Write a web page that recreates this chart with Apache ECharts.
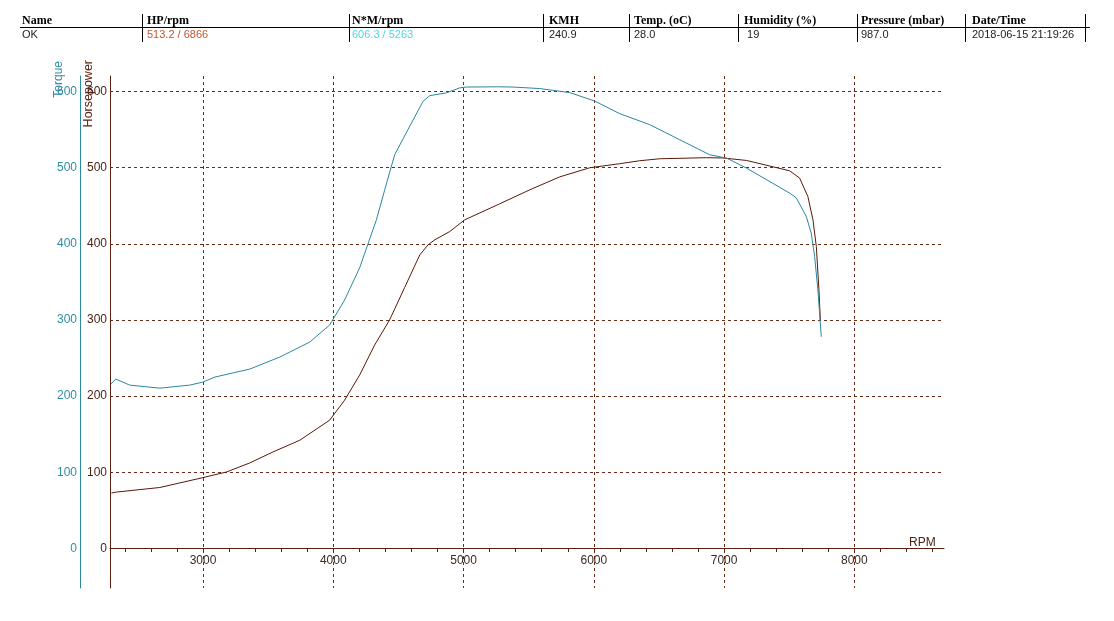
<!DOCTYPE html>
<html>
<head>
<meta charset="utf-8">
<script src="https://cdn.jsdelivr.net/npm/echarts@6/dist/echarts.min.js"></script>
<style>
  html, body { margin: 0; padding: 0; background: #fff; }
  #wrap { position: relative; width: 1114px; height: 621px; overflow: hidden; }
  #chart { position: absolute; left: 0; top: 0; width: 1114px; height: 621px; }
  .hd { position: absolute; font-family: 'Liberation Serif', serif; font-weight: bold; font-size: 12px; color: #000; top: 13px; line-height: 14px; white-space: pre; }
  .vl { position: absolute; font-family: 'Liberation Sans', Arial, sans-serif; font-size: 11px; color: #222; top: 27px; line-height: 14px; white-space: pre; }
  .sep { position: absolute; top: 14px; height: 28px; width: 1px; background: #000; }
  #hline { position: absolute; left: 20px; top: 27px; width: 1070px; height: 1px; background: #000; }
</style>
</head>
<body>
<div id="wrap">
  <div id="chart"></div>
  <div id="hdr"></div>
</div>
<script>
// ---- header table ----
const headerNames = ['Name', 'HP/rpm', 'N*M/rpm', 'KMH', 'Temp. (oC)', 'Humidity (%)', 'Pressure (mbar)', 'Date/Time'];
const headerValues = ['OK', '513.2 / 6866', '606.3 / 5263', '240.9', '28.0', ' 19', '987.0', '2018-06-15 21:19:26'];
const headerValueColors = ['#222', '#c4552e', '#4fd6e4', '#222', '#222', '#222', '#222', '#222'];

// ---- chart data ----
const torqueRpm = [2292, 2330, 2437, 2668, 2898, 2998, 3090, 3358, 3589, 3819, 3972, 4087, 4202, 4331, 4395, 4471, 4573, 4689, 4740, 4868, 4970, 5022, 5263, 5379, 5584, 5815, 6007, 6199, 6429, 6659, 6890, 7017, 7171, 7503, 7554, 7631, 7669, 7695, 7720, 7746];
const torqueVal = [215.8, 222.4, 214.5, 210.5, 214.5, 218.4, 225, 235.5, 251.3, 271, 293.4, 326.3, 368.4, 431.6, 471, 517, 550, 587.2, 594.7, 598.3, 604.9, 606.0, 606.3, 606.0, 604, 598.7, 587.6, 571, 556.6, 536.8, 517, 512.8, 499.6, 466.7, 460.5, 435.9, 414, 383.3, 339.5, 278];
const hpRpm = [2297, 2335, 2668, 3000, 3180, 3358, 3537, 3742, 3972, 4087, 4202, 4317, 4432, 4548, 4664, 4727, 4779, 4894, 5009, 5277, 5508, 5738, 5969, 6199, 6352, 6506, 6866, 6991, 7171, 7503, 7580, 7643, 7682, 7708, 7728, 7739];
const hpVal = [72.8, 74, 80, 93, 100.4, 112.2, 126.7, 142, 168.4, 194.7, 227.6, 267, 300, 342.8, 385.5, 398.7, 405.3, 416.2, 431.6, 452.6, 471, 488, 500, 505.3, 509.2, 511.8, 513.2, 512.8, 509.6, 496, 486.4, 462.2, 431.6, 396.4, 339.5, 300];

const yTickValues = [0, 100, 200, 300, 400, 500, 600];
const xLabelValues = [3000, 4000, 5000, 6000, 7000, 8000];
const xMinorTicks = [2400, 2600, 2800, 3000, 3200, 3400, 3600, 3800, 4000, 4200, 4400, 4600, 4800, 5000, 5200, 5400, 5600, 5800, 6000, 6200, 6400, 6600, 6800, 7000, 7200, 7400, 7600, 7800, 8000, 8200, 8400, 8600];
const xMin = 2286, xMax = 8688, yMin = -52, yMax = 620.5;

// build header
(function () {
  const sepX = [142, 349, 543, 629, 738, 857, 965, 1085];
  const textX = [22, 147, 352, 549, 634, 744, 861, 972];
  const hdr = document.getElementById('hdr');
  let html = '<div id="hline"></div>';
  sepX.forEach(x => { html += '<div class="sep" style="left:' + x + 'px"></div>'; });
  headerNames.forEach((t, i) => { html += '<div class="hd" style="left:' + textX[i] + 'px">' + t + '</div>'; });
  headerValues.forEach((t, i) => { html += '<div class="vl" style="left:' + textX[i] + 'px;color:' + headerValueColors[i] + '">' + t + '</div>'; });
  hdr.innerHTML = html;
})();

const brown = '#5a2010';
const teal = '#2a88a0';
const gridColor = '#6a2a18';
const font = "'Liberation Sans', Arial, sans-serif";

const chart = echarts.init(document.getElementById('chart'), null, { renderer: 'canvas' });
chart.setOption({
  animation: false,
  backgroundColor: 'transparent',
  grid: { left: 110, right: 170, top: 76, bottom: 33, containLabel: false },
  xAxis: [
    {
      type: 'value', min: xMin, max: xMax, position: 'bottom', offset: -40,
      axisLine: { show: true, onZero: false, lineStyle: { color: brown, width: 1 } },
      axisTick: { show: true, length: 4, customValues: xMinorTicks, lineStyle: { color: brown } },
      axisLabel: { show: true, customValues: xLabelValues, formatter: v => String(v), color: '#3a2a20', fontFamily: font, fontSize: 12, margin: 7 },
      splitLine: { show: false }
    },
    {
      type: 'value', min: xMin, max: xMax, position: 'bottom',
      axisLine: { show: false, onZero: false },
      axisTick: { show: false, customValues: xLabelValues },
      axisLabel: { show: false },
      splitLine: { show: true, lineStyle: { color: gridColor, type: [3, 3], width: 1 } }
    }
  ],
  yAxis: [
    {
      type: 'value', min: yMin, max: yMax, position: 'left', offset: 0,
      axisLine: { show: true, onZero: false, lineStyle: { color: brown, width: 1 } },
      axisTick: { show: false, customValues: yTickValues },
      axisLabel: { customValues: yTickValues, color: '#4a2418', fontFamily: font, fontSize: 12, margin: 3 },
      splitLine: { show: true, lineStyle: { color: gridColor, type: [3, 3], width: 1 } }
    },
    {
      type: 'value', min: yMin, max: yMax, position: 'left', offset: 30,
      axisLine: { show: true, onZero: false, lineStyle: { color: teal, width: 1 } },
      axisTick: { show: false, customValues: yTickValues },
      axisLabel: { customValues: yTickValues, color: '#2e8ea2', fontFamily: font, fontSize: 12, margin: 3 },
      splitLine: { show: false }
    }
  ],
  graphic: [
    { type: 'text', x: 59, y: 61, rotation: Math.PI / 2,
      style: { text: 'Torque', fill: '#2e8ea2', font: "12px 'Liberation Sans', Arial, sans-serif", align: 'right', verticalAlign: 'middle' } },
    { type: 'text', x: 89, y: 60, rotation: Math.PI / 2,
      style: { text: 'Horsepower', fill: '#5a2010', font: "12.5px 'Liberation Sans', Arial, sans-serif", align: 'right', verticalAlign: 'middle' } },
    { type: 'text', x: 909, y: 543,
      style: { text: 'RPM', fill: '#4a2418', font: "12px 'Liberation Sans', Arial, sans-serif", align: 'left', verticalAlign: 'middle' } }
  ],
  series: [
    {
      name: 'Horsepower', type: 'line', xAxisIndex: 0, yAxisIndex: 0,
      data: hpRpm.map((r, i) => [r, hpVal[i]]),
      showSymbol: false, symbol: 'none', smooth: false,
      lineStyle: { color: '#5a1808', width: 1 }
    },
    {
      name: 'Torque', type: 'line', xAxisIndex: 0, yAxisIndex: 1,
      data: torqueRpm.map((r, i) => [r, torqueVal[i]]),
      showSymbol: false, symbol: 'none', smooth: false,
      lineStyle: { color: '#2a86a0', width: 1 }
    }
  ]
});
</script>
</body>
</html>
